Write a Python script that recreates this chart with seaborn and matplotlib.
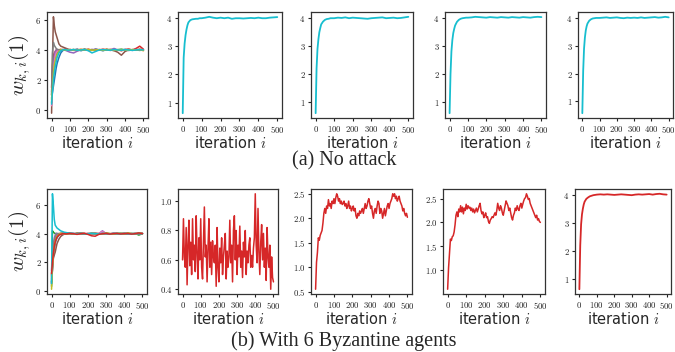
import numpy as np
import pandas as pd
import matplotlib
matplotlib.use("Agg")
import matplotlib.pyplot as plt
import seaborn as sns

# iterations at which the agent trajectories are sampled
iters = [0, 5, 10, 15, 20, 25, 30, 40, 50, 60, 70, 80, 90, 100,
         120, 140, 160, 180, 200, 220, 240, 260, 280, 300,
         320, 340, 360, 380, 400, 420, 440, 460, 480, 500]

# (a) no attack: all agents, w_{k,i}(1)
agents_a = {
    "blue":   [0.8, 1.2, 1.6, 2.0, 2.4, 2.8, 3.1, 3.5, 3.8, 3.95, 4.0, 4.0, 4.02, 3.98,
               4.0, 4.05, 3.95, 4.02, 4.0, 3.98, 4.05, 4.0, 3.95, 4.02, 4.0, 4.05, 3.98, 4.0, 4.03, 3.97, 4.0, 4.02, 4.0, 3.98],
    "orange": [1.0, 2.0, 2.8, 3.3, 3.6, 3.8, 3.9, 4.0, 4.05, 4.0, 3.98, 4.02, 4.0, 4.03,
               3.97, 4.0, 4.05, 3.98, 4.02, 4.0, 3.96, 4.03, 4.0, 4.05, 3.98, 4.0, 4.02, 3.97, 4.0, 4.04, 3.98, 4.0, 4.02, 3.95],
    "green":  [0.5, 1.8, 2.6, 3.2, 3.5, 3.7, 3.85, 3.95, 4.0, 4.02, 4.0, 3.98, 4.02, 4.0,
               4.03, 3.98, 4.0, 4.05, 3.97, 4.0, 4.02, 4.0, 3.98, 4.03, 4.0, 3.97, 4.02, 4.05, 4.0, 3.98, 4.02, 4.0, 3.97, 4.0],
    "red":    [1.5, 3.0, 3.6, 3.8, 3.9, 4.0, 4.0, 4.02, 3.98, 4.0, 4.05, 4.0, 3.97, 4.02,
               4.0, 4.03, 3.98, 4.0, 4.05, 3.98, 4.02, 4.0, 4.05, 4.0, 3.97, 4.02, 4.0, 3.95, 4.03, 4.05, 4.0, 4.1, 4.25, 4.05],
    "purple": [1.2, 2.5, 3.3, 3.7, 3.9, 4.0, 4.02, 4.0, 3.98, 4.03, 4.0, 3.95, 3.9, 3.85,
               3.8, 3.92, 4.0, 4.03, 3.98, 4.0, 4.05, 4.0, 3.97, 4.02, 4.0, 4.1, 4.0, 3.98, 4.02, 4.0, 3.97, 4.03, 4.0, 4.02],
    "brown":  [-0.2, 3.5, 6.2, 5.6, 5.2, 5.0, 4.8, 4.4, 4.25, 4.2, 4.15, 4.1, 4.05, 4.0,
               4.02, 3.98, 4.0, 4.03, 4.0, 3.97, 4.02, 4.0, 3.98, 4.02, 4.0, 3.95, 3.85, 3.65, 3.9, 4.0, 4.02, 4.0, 4.05, 4.0],
    "pink":   [0.3, 1.5, 2.5, 3.2, 3.6, 3.8, 3.9, 4.0, 4.02, 4.0, 3.98, 4.02, 4.0, 4.03,
               3.98, 4.0, 4.02, 4.0, 3.97, 4.03, 4.0, 4.02, 3.98, 4.0, 4.05, 4.0, 3.98, 4.02, 4.0, 3.97, 4.0, 4.02, 4.0, 4.03],
    "gray":   [1.0, 3.8, 4.5, 4.3, 4.2, 4.1, 4.05, 4.0, 4.02, 3.98, 4.0, 4.03, 4.0, 3.98,
               4.02, 4.0, 3.97, 4.02, 4.0, 4.03, 3.98, 4.0, 4.02, 3.98, 4.0, 4.02, 4.0, 3.97, 4.0, 4.03, 4.0, 3.98, 4.0, 4.02],
    "olive":  [0.7, 1.5, 2.4, 3.0, 3.3, 3.5, 3.7, 3.9, 4.0, 4.02, 4.0, 3.98, 4.0, 4.02,
               4.0, 3.97, 4.02, 4.0, 4.03, 3.98, 4.0, 4.02, 3.97, 4.0, 4.03, 4.0, 3.98, 4.02, 4.0, 3.98, 4.02, 4.0, 4.03, 3.97],
    "cyan":   [0.4, 1.3, 2.0, 2.5, 2.9, 3.2, 3.5, 3.8, 3.95, 4.0, 4.02, 4.0, 3.98, 4.0,
               4.02, 3.98, 4.0, 4.02, 3.95, 3.8, 3.9, 4.0, 4.02, 4.0, 3.98, 4.03, 4.0, 3.98, 4.02, 4.0, 3.97, 4.0, 4.02, 4.0],
}

# (b) 6 Byzantine agents: all agents
agents_b = {
    "blue":   [0.6, 1.5, 2.3, 2.9, 3.3, 3.55, 3.7, 3.9, 4.0, 4.02, 4.0, 3.98, 4.0, 4.02,
               4.0, 3.97, 4.02, 4.0, 3.98, 4.03, 4.0, 3.98, 4.02, 4.0, 3.97, 4.0, 4.03, 4.0, 3.98, 4.02, 4.0, 3.98, 4.02, 4.0],
    "orange": [1.0, 2.2, 3.0, 3.4, 3.7, 3.85, 3.95, 4.0, 4.02, 4.0, 3.98, 4.02, 4.0, 4.03,
               3.97, 4.05, 4.0, 4.02, 3.98, 4.0, 4.03, 4.0, 3.97, 4.05, 4.0, 4.02, 3.98, 4.0, 4.05, 4.0, 3.97, 4.0, 4.05, 4.02],
    "green":  [0.3, 4.2, 4.1, 4.05, 4.0, 4.02, 4.0, 3.98, 4.0, 4.02, 4.0, 3.98, 4.02, 4.0,
               3.97, 4.0, 4.02, 4.0, 3.98, 4.0, 4.02, 3.97, 4.0, 4.02, 4.0, 3.98, 4.0, 4.02, 4.0, 3.97, 4.0, 4.02, 3.9, 4.0],
    "purple": [1.4, 2.6, 3.3, 3.7, 3.9, 4.0, 4.02, 4.0, 3.98, 4.02, 4.0, 3.98, 4.0, 4.02,
               4.0, 3.98, 4.05, 4.0, 3.98, 4.02, 4.0, 4.0, 4.2, 4.0, 3.98, 4.02, 4.0, 3.98, 4.02, 4.0, 3.98, 4.02, 4.0, 4.02],
    "brown":  [0.5, 1.5, 2.3, 2.5, 2.7, 3.0, 3.3, 3.6, 3.8, 3.9, 3.97, 4.0, 4.02, 4.0,
               3.98, 4.02, 4.0, 3.97, 4.02, 4.0, 3.98, 4.0, 4.02, 4.0, 3.98, 4.02, 4.0, 3.97, 4.0, 4.02, 4.0, 3.98, 4.0, 4.02],
    "pink":   [0.8, 1.9, 2.7, 3.2, 3.5, 3.7, 3.85, 3.95, 4.0, 4.02, 4.0, 3.98, 4.02, 4.0,
               4.03, 3.98, 4.0, 4.02, 4.0, 3.98, 4.02, 4.0, 4.15, 4.0, 3.98, 4.02, 4.0, 3.98, 4.02, 4.0, 3.98, 4.0, 4.02, 4.0],
    "gray":   [1.1, 2.4, 3.1, 3.5, 3.75, 3.9, 3.95, 4.0, 4.02, 4.0, 3.98, 4.0, 4.02, 4.0,
               3.98, 4.0, 4.02, 4.0, 3.97, 4.0, 4.02, 4.0, 3.98, 4.02, 4.0, 3.98, 4.0, 4.02, 4.0, 3.98, 4.02, 4.0, 3.98, 4.0],
    "olive":  [0.1, 1.7, 2.6, 3.1, 3.45, 3.65, 3.8, 3.95, 4.0, 4.02, 4.0, 3.98, 4.0, 4.02,
               4.0, 3.97, 4.02, 4.0, 3.98, 4.02, 4.0, 3.98, 4.0, 4.02, 4.0, 3.97, 4.02, 4.0, 3.98, 4.05, 4.0, 3.98, 4.05, 4.0],
    "cyan":   [0.5, 6.8, 6.0, 5.0, 4.6, 4.5, 4.4, 4.3, 4.2, 4.15, 4.1, 4.08, 4.05, 4.05,
               4.02, 4.0, 4.02, 3.98, 4.0, 4.02, 4.0, 3.98, 4.02, 4.0, 3.98, 4.02, 4.0, 3.98, 4.02, 4.0, 3.98, 4.0, 4.02, 4.0],
    "red":    [1.2, 2.0, 2.6, 3.1, 3.4, 3.6, 3.75, 3.9, 3.95, 4.0, 4.0, 3.98, 4.0, 4.02,
               4.0, 3.95, 4.0, 4.02, 3.95, 3.85, 3.82, 3.95, 4.0, 4.02, 3.97, 4.0, 4.02, 3.98, 4.0, 4.02, 3.97, 4.0, 4.05, 4.0],
}

# single-agent trajectories, same sampling
cyan_a2 = [0.62, 2.6, 3.1, 3.4, 3.6, 3.75, 3.85, 3.93, 3.96, 3.97, 3.98, 3.98, 4.0, 4.0,
           4.02, 4.05, 4.02, 4.0, 4.02, 4.0, 4.02, 3.98, 4.0, 4.0, 3.99, 4.0, 4.01, 4.0, 4.02, 4.0, 4.0, 4.02, 4.03, 4.04]
cyan_a3 = [0.6, 2.2, 2.9, 3.25, 3.5, 3.65, 3.78, 3.88, 3.94, 3.97, 3.98, 4.0, 4.0, 4.0,
           4.02, 4.01, 4.03, 4.0, 4.02, 4.01, 4.0, 3.99, 3.98, 4.0, 4.01, 4.02, 4.03, 4.0, 4.01, 4.02, 4.0, 4.01, 4.03, 4.05]
cyan_a4 = [0.6, 2.0, 2.8, 3.2, 3.45, 3.6, 3.72, 3.85, 3.92, 3.96, 3.98, 3.99, 4.0, 4.0,
           4.01, 4.03, 4.02, 4.01, 4.0, 4.02, 4.01, 4.0, 4.02, 4.01, 4.0, 4.02, 4.01, 4.0, 4.02, 4.01, 4.0, 4.02, 4.03, 4.02]
cyan_a5 = [0.58, 2.1, 2.9, 3.3, 3.55, 3.7, 3.8, 3.9, 3.95, 3.98, 3.99, 4.0, 4.0, 4.0,
           4.01, 4.02, 4.0, 4.01, 4.02, 4.0, 3.99, 4.01, 4.0, 4.01, 4.0, 4.02, 4.0, 4.01, 4.02, 4.03, 4.01, 4.02, 4.04, 4.02]
red_b5 = [0.65, 2.2, 2.95, 3.3, 3.5, 3.65, 3.75, 3.85, 3.9, 3.94, 3.96, 3.98, 3.99, 4.0,
          4.01, 4.0, 4.01, 4.0, 3.99, 4.0, 4.01, 4.0, 3.99, 3.98, 4.0, 4.01, 4.0, 4.01, 4.02, 4.0, 4.02, 4.03, 4.01, 4.0]

# noisy Byzantine-affected trajectories, every 5 iterations
red_b2 = [0.60, 0.88, 0.62, 0.55, 0.82, 0.43, 0.70, 0.87, 0.56, 0.72, 0.50, 0.88, 0.60, 0.70, 0.52, 0.90,
          0.65, 0.47, 0.75, 0.60, 0.88, 0.55, 0.47, 0.72, 0.96, 0.62, 0.70, 0.45, 0.68, 0.88, 0.55,
          0.72, 0.50, 0.73, 0.62, 0.58, 0.70, 0.42, 0.82, 0.55, 0.45, 0.68, 0.58, 0.75, 0.50, 0.62,
          0.70, 0.78, 0.47, 0.66, 0.55, 0.62, 0.87, 0.58, 0.70, 0.45, 0.80, 0.90, 0.60, 0.80, 0.50,
          0.70, 0.62, 0.83, 0.55, 0.66, 0.48, 0.72, 0.62, 0.80, 0.50, 0.66, 0.58, 0.70, 0.75, 0.55,
          0.63, 0.55, 0.68, 0.75, 1.05, 0.70, 0.58, 0.95, 0.65, 0.50, 0.72, 0.84, 0.60, 0.78, 0.55,
          0.68, 0.46, 0.82, 0.62, 0.55, 0.70, 0.40, 0.62, 0.48, 0.45]
red_b3 = [0.55, 1.10, 1.30, 1.60, 1.55, 1.65, 1.70, 1.75, 1.90, 2.10, 2.20, 2.10, 2.25, 2.20, 2.38, 2.25,
          2.30, 2.20, 2.35, 2.30, 2.40, 2.30, 2.42, 2.50, 2.45, 2.35, 2.40, 2.30, 2.35, 2.28, 2.30,
          2.35, 2.25, 2.30, 2.20, 2.25, 2.35, 2.20, 2.25, 2.15, 2.20, 2.25, 2.15, 2.20, 2.05, 2.00,
          2.10, 2.05, 2.15, 2.10, 2.15, 2.20, 2.10, 2.20, 2.30, 2.20, 2.25, 2.35, 2.40, 2.30, 2.20,
          2.25, 2.10, 2.00, 2.15, 2.20, 2.10, 2.25, 2.35, 2.30, 2.10, 2.20, 2.15, 2.00, 2.10, 2.20,
          2.05, 2.15, 2.25, 2.30, 2.20, 2.30, 2.35, 2.40, 2.50, 2.45, 2.50, 2.40, 2.45, 2.35, 2.40,
          2.45, 2.35, 2.30, 2.25, 2.15, 2.20, 2.10, 2.05, 2.10, 2.02]
red_b4 = [0.60, 1.05, 1.35, 1.65, 1.62, 1.70, 1.72, 1.80, 1.95, 2.15, 2.22, 2.12, 2.28, 2.22, 2.35, 2.22,
          2.32, 2.18, 2.30, 2.25, 2.38, 2.28, 2.35, 2.30, 2.32, 2.25, 2.30, 2.22, 2.28, 2.20, 2.25,
          2.30, 2.22, 2.28, 2.35, 2.40, 2.25, 2.18, 2.22, 2.10, 2.15, 2.20, 2.10, 2.12, 2.02, 1.98,
          2.05, 2.08, 2.12, 2.10, 2.15, 2.20, 2.15, 2.25, 2.40, 2.30, 2.25, 2.35, 2.30, 2.20, 2.15,
          2.25, 2.35, 2.45, 2.40, 2.35, 2.25, 2.30, 2.20, 2.10, 2.05, 2.15, 2.20, 2.30, 2.25, 2.35,
          2.28, 2.25, 2.35, 2.40, 2.30, 2.38, 2.45, 2.50, 2.52, 2.60, 2.55, 2.48, 2.50, 2.40, 2.35,
          2.30, 2.25, 2.20, 2.15, 2.10, 2.15, 2.05, 2.08, 2.02, 2.00]

TEAL = "#17becf"
RED = "#d62728"

sns.set_style("ticks")
plt.rcParams["mathtext.fontset"] = "cm"
plt.rcParams["font.family"] = ["DejaVu Sans"]

W, H = 675, 352
fig = plt.figure(figsize=(W / 100, H / 100), dpi=100)


def add_ax(x0, x1, ytop, ybot):
    return fig.add_axes([x0 / W, 1 - ybot / H, (x1 - x0) / W, (ybot - ytop) / H])


def style(ax, yticks, yfmt):
    ax.set_xticks([0, 100, 200, 300, 400, 500])
    ax.set_xticklabels([f"${v}$" for v in [0, 100, 200, 300, 400, 500]])
    ax.set_yticks(yticks)
    ax.set_yticklabels([("$" + yfmt + "$").format(v) for v in yticks])
    ax.tick_params(labelsize=6.3, length=2.5, width=0.8, pad=1.5, colors="#222222")
    for s in ax.spines.values():
        s.set_color("#333333")
        s.set_linewidth(0.9)
    ax.set_xlabel("iteration $i$", fontsize=10.5, labelpad=0)
    ax.set_ylabel("")


def agents_plot(ax, agents):
    rows = []
    for name, vals in agents.items():
        for it, v in zip(iters, vals):
            rows.append({"agent": name, "iter": it, "w": v})
    df = pd.DataFrame(rows)
    names = list(agents.keys())
    pal = {n: ("tab:" + n) for n in names}
    sns.lineplot(data=df, x="iter", y="w", hue="agent", palette=pal,
                 hue_order=names, legend=False, lw=1.1, ax=ax)


row_a = [(47, 148), (178, 282), (311, 413), (445, 546), (578, 673)]
row_b = [(47, 147), (178, 278), (311, 412), (443, 545), (575, 671)]
ya = (12, 118)
yb = (189, 294)

# row (a)
ax = add_ax(*row_a[0], *ya)
agents_plot(ax, agents_a)
style(ax, [0, 2, 4, 6], "{:d}")
ax.set_ylabel("$w_{k,i}(1)$", fontsize=15, labelpad=2)
for (x0, x1), series in zip(row_a[1:], [cyan_a2, cyan_a3, cyan_a4, cyan_a5]):
    ax = add_ax(x0, x1, *ya)
    sns.lineplot(x=iters, y=series, color=TEAL, lw=1.3, ax=ax)
    style(ax, [1, 2, 3, 4], "{:d}")

# row (b)
ax = add_ax(*row_b[0], *yb)
agents_plot(ax, agents_b)
style(ax, [0, 2, 4, 6], "{:d}")
ax.set_ylabel("$w_{k,i}(1)$", fontsize=15, labelpad=2)

ax = add_ax(*row_b[1], *yb)
sns.lineplot(x=5 * np.arange(len(red_b2)), y=red_b2, color=RED, lw=1.1, ax=ax)
style(ax, [0.4, 0.6, 0.8, 1.0], "{:.1f}")

ax = add_ax(*row_b[2], *yb)
sns.lineplot(x=5 * np.arange(len(red_b3)), y=red_b3, color=RED, lw=1.1, ax=ax)
style(ax, [0.5, 1.0, 1.5, 2.0, 2.5], "{:.1f}")

ax = add_ax(*row_b[3], *yb)
sns.lineplot(x=5 * np.arange(len(red_b4)), y=red_b4, color=RED, lw=1.1, ax=ax)
style(ax, [1.0, 1.5, 2.0, 2.5], "{:.1f}")

ax = add_ax(*row_b[4], *yb)
sns.lineplot(x=iters, y=red_b5, color=RED, lw=1.3, ax=ax)
style(ax, [1, 2, 3, 4], "{:d}")

fig.text(344 / W, 1 - 161 / H, "(a) No attack", ha="center", va="center",
         fontsize=14.5, family="Liberation Serif")
fig.text(344 / W, 1 - 341 / H, "(b) With 6 Byzantine agents", ha="center", va="center",
         fontsize=14.5, family="Liberation Serif")

fig.savefig("out.png", dpi=100)
